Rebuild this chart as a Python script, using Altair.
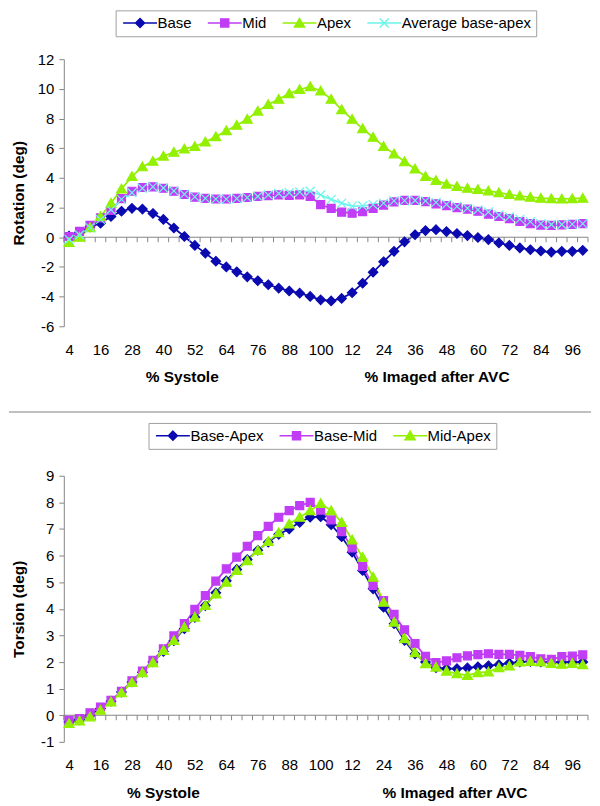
import json
import altair as alt
import pandas as pd

# ---------------- data ----------------
systole_pct = [4, 8, 12, 16, 20, 24, 28, 32, 36, 40, 44, 48, 52, 56, 60, 64, 68, 72, 76, 80, 84, 88, 92, 96, 100]
avc_pct = [4, 8, 12, 16, 20, 24, 28, 32, 36, 40, 44, 48, 52, 56, 60, 64, 68, 72, 76, 80, 84, 88, 92, 96, 100]
cat_labels = [str(v) for v in systole_pct + avc_pct]
x_titles = ["% Systole", "% Imaged after AVC"]

rot_series = ["Base", "Mid", "Apex", "Average base-apex"]
rot_base = [0.07, 0.33, 0.7, 0.95, 1.4, 1.75, 1.95, 1.9, 1.6, 1.2,
            0.62, 0.05, -0.55, -1.07, -1.62, -2.0, -2.33, -2.67, -2.93, -3.2,
            -3.43, -3.62, -3.77, -3.99, -4.22, -4.29, -4.12, -3.74, -3.1, -2.36,
            -1.65, -0.95, -0.31, 0.17, 0.45, 0.51, 0.38, 0.25, 0.11, -0.02,
            -0.16, -0.38, -0.55, -0.72, -0.84, -0.93, -1.0, -0.95, -0.95, -0.88]
rot_mid = [0.05, 0.4, 0.8, 1.3, 1.8, 2.6, 3.1, 3.35, 3.4, 3.3,
           3.1, 2.88, 2.7, 2.62, 2.58, 2.58, 2.62, 2.68, 2.75, 2.8,
           2.85, 2.82, 2.85, 2.75, 2.2, 1.94, 1.69, 1.62, 1.72, 1.95,
           2.17, 2.38, 2.48, 2.48, 2.4, 2.25, 2.13, 2.0, 1.9, 1.75,
           1.56, 1.4, 1.25, 1.06, 0.92, 0.82, 0.8, 0.83, 0.87, 0.92]
rot_apex = [-0.35, 0.0, 0.65, 1.4, 2.3, 3.25, 4.1, 4.75, 5.12, 5.47,
            5.73, 5.95, 6.12, 6.42, 6.78, 7.18, 7.55, 7.95, 8.5, 8.95,
            9.3, 9.68, 9.96, 10.15, 9.86, 9.3, 8.6, 7.95, 7.32, 6.74,
            6.12, 5.62, 5.1, 4.6, 4.1, 3.83, 3.58, 3.42, 3.3, 3.22,
            3.12, 3.0, 2.88, 2.78, 2.7, 2.63, 2.6, 2.58, 2.6, 2.63]
rot_avg = [-0.15, 0.15, 0.65, 1.2, 1.85, 2.55, 3.0, 3.3, 3.4, 3.32,
           3.12, 2.9, 2.72, 2.62, 2.57, 2.57, 2.6, 2.67, 2.75, 2.85,
           2.95, 3.0, 3.05, 3.1, 2.85, 2.55, 2.3, 2.1, 2.12, 2.2,
           2.3, 2.45, 2.47, 2.48, 2.45, 2.35, 2.22, 2.08, 1.95, 1.85,
           1.7, 1.5, 1.38, 1.22, 1.05, 0.92, 0.86, 0.86, 0.88, 0.92]

tor_series = ["Base-Apex", "Base-Mid", "Mid-Apex"]
tor_base_apex = [-0.25, -0.17, 0.0, 0.25, 0.53, 0.87, 1.25, 1.62, 2.0, 2.4,
                 2.8, 3.25, 3.68, 4.12, 4.6, 5.05, 5.48, 5.85, 6.2, 6.5,
                 6.8, 7.0, 7.25, 7.44, 7.46, 7.16, 6.71, 6.13, 5.44, 4.75,
                 4.06, 3.44, 2.81, 2.3, 2.0, 1.79, 1.75, 1.75, 1.78, 1.82,
                 1.86, 1.9, 1.96, 2.0, 2.02, 2.0, 2.0, 2.0, 2.0, 2.0]
tor_base_mid = [-0.19, -0.13, 0.09, 0.31, 0.56, 0.9, 1.29, 1.66, 2.06, 2.5,
                2.98, 3.44, 3.98, 4.5, 5.04, 5.5, 5.94, 6.35, 6.75, 7.1,
                7.44, 7.69, 7.88, 8.0, 7.71, 7.34, 6.9, 6.29, 5.59, 4.88,
                4.31, 3.79, 3.21, 2.69, 2.21, 1.98, 2.04, 2.16, 2.23, 2.28,
                2.31, 2.29, 2.29, 2.25, 2.2, 2.12, 2.1, 2.2, 2.22, 2.27]
tor_mid_apex = [-0.31, -0.21, -0.06, 0.19, 0.5, 0.85, 1.23, 1.6, 1.98, 2.44,
                2.81, 3.31, 3.69, 4.13, 4.56, 5.0, 5.44, 5.81, 6.19, 6.53,
                6.86, 7.19, 7.44, 7.69, 7.96, 7.69, 7.25, 6.59, 5.94, 5.19,
                4.25, 3.5, 2.88, 2.35, 1.94, 1.81, 1.66, 1.56, 1.5, 1.6,
                1.63, 1.79, 1.85, 2.0, 2.02, 2.0, 1.95, 1.92, 1.95, 1.9]

# ---------------- styles ----------------
FONT = "Liberation Sans, Arial, sans-serif"
AXIS = "#868686"
BLUE, PURPLE, GREEN, CYAN = "#0A0AB0", "#C03CF5", "#92F000", "#6CF5EC"

DIAMOND = "M0,-0.95L0.95,0L0,0.95L-0.95,0Z"
SQUARE = "M-0.8,-0.8L0.8,-0.8L0.8,0.8L-0.8,0.8Z"
TRIANGLE = "M0,-0.95L1,0.8L-1,0.8Z"
XMARK = "M-0.9,-0.9L0.9,0.9M-0.9,0.9L0.9,-0.9"

LINE = "M-1,0L5.8,0"
LG_DIAMOND = LINE + "M2.4,-0.9L3.3,0L2.4,0.9L1.5,0Z"
LG_SQUARE = LINE + "M1.6,-0.8L3.2,-0.8L3.2,0.8L1.6,0.8Z"
LG_TRIANGLE = LINE + "M2.4,-0.9L3.4,0.8L1.4,0.8Z"
LG_X = LINE + "M1.5,-0.9L3.3,0.9M1.5,0.9L3.3,-0.9"

PLOT_W = 526


def long_df(names, arrays):
    rows = []
    for name, arr in zip(names, arrays):
        for i, v in enumerate(arr):
            rows.append({"i": i, "series": name, "v": v})
    return pd.DataFrame(rows)


def panel(df, series, colors, fills, markers, lg_markers, ymin, ymax, ystep,
          ytitle, height, legend_x, legend_y, title_pos, separator=False):
    n = len(cat_labels)
    xscale = alt.Scale(domain=[-0.5, n - 0.5], nice=False, zero=False)
    yscale = alt.Scale(domain=[ymin, ymax], nice=False, zero=False)

    label_axis = alt.Axis(orient="bottom", values=list(range(0, n, 3)),
                          labelExpr=json.dumps(cat_labels) + "[datum.value]",
                          domain=False, ticks=False, grid=False, title=None,
                          labelPadding=16, labelFont=FONT, labelFontSize=15,
                          labelColor="black", labelFlush=False, labelOverlap=False)
    y_axis = alt.Axis(orient="left", values=list(range(ymin, ymax + 1, ystep)), grid=False,
                      labelExpr="datum.value < 0 ? '-' + abs(datum.value) : '' + datum.value",
                      domain=True, domainColor=AXIS, ticks=True, tickColor=AXIS,
                      tickSize=5, labelPadding=5,
                      labelFont=FONT, labelFontSize=15, labelColor="black",
                      title=ytitle, titleFont=FONT, titleFontSize=15.5,
                      titleFontWeight="bold", titleColor="black", titleX=-37)

    def X(field, **kw):
        return alt.X(field, scale=xscale, axis=label_axis, **kw)

    def Y(field=None, **kw):
        if field is None:
            return alt.Y(scale=yscale, axis=y_axis, **kw)
        return alt.Y(field, scale=yscale, axis=y_axis, **kw)

    base = alt.Chart(df)
    lines = base.mark_line(strokeWidth=1.75).encode(
        x=X("i:Q"),
        y=Y("v:Q"),
        color=alt.Color("series:N", scale=alt.Scale(domain=series, range=colors), legend=None),
    )
    points = base.mark_point(filled=True, size=100, strokeWidth=1.2, opacity=1).encode(
        x=X("i:Q"),
        y=Y("v:Q"),
        shape=alt.Shape("series:N", scale=alt.Scale(domain=series, range=markers), legend=None),
        fill=alt.Fill("series:N", scale=alt.Scale(domain=series, range=fills), legend=None),
        stroke=alt.Stroke("series:N", scale=alt.Scale(domain=series, range=colors), legend=None),
    )
    lg = dict(orient="none", legendX=legend_x, legendY=legend_y, direction="horizontal",
              columns=len(series), title=None, symbolSize=100, symbolStrokeWidth=1.5,
              labelOffset=22, columnPadding=12, padding=5, strokeColor="#A0A0A0",
              fillColor="white", labelFont=FONT, labelFontSize=15, labelColor="black",
              symbolOpacity=1)
    legend_layer = base.mark_point(filled=True, strokeWidth=1.5).encode(
        shape=alt.Shape("series:N", scale=alt.Scale(domain=series, range=lg_markers), legend=alt.Legend(**lg)),
        fill=alt.Fill("series:N", scale=alt.Scale(domain=series, range=fills), legend=alt.Legend(**lg)),
        stroke=alt.Stroke("series:N", scale=alt.Scale(domain=series, range=colors), legend=alt.Legend(**lg)),
    ).transform_filter("false")

    # category axis drawn at y = 0 (Excel style): line plus tick marks between categories
    bounds_df = pd.DataFrame({"i": [k - 0.5 for k in range(n + 1)]})
    zero_line = alt.Chart(bounds_df).mark_rule(color=AXIS, strokeWidth=1).encode(
        x=X("min(i):Q"),
        x2=alt.X2("max(i):Q"),
        y=Y(datum=0),
    )
    zero_ticks = alt.Chart(bounds_df).mark_rule(color=AXIS, strokeWidth=1, y2Offset=5).encode(
        x=X("i:Q"),
        y=Y(datum=0),
        y2=alt.Y2(datum=0),
    )

    tdf = pd.DataFrame({"i": title_pos, "t": x_titles})
    titles = alt.Chart(tdf).mark_text(font=FONT, fontSize=15.5, fontWeight="bold",
                                      color="black", baseline="middle").encode(
        x=X("i:Q"),
        y=alt.value(height + 51),
        text="t:N",
    )
    layers = [lines, zero_line, zero_ticks, points, legend_layer, titles]
    if separator:
        rule = alt.Chart(pd.DataFrame({"a": [0]})).mark_rule(color="#C0C0C0", strokeWidth=2).encode(
            x=alt.value(-55), x2=alt.value(PLOT_W + 3), y=alt.value(height + 86))
        layers.append(rule)
    return alt.layer(*layers).resolve_scale(
        shape="independent", fill="independent", stroke="independent"
    ).properties(width=PLOT_W, height=height)


rot_df = long_df(rot_series, [rot_base, rot_mid, rot_apex, rot_avg])
tor_df = long_df(tor_series, [tor_base_apex, tor_base_mid, tor_mid_apex])

top = panel(rot_df, rot_series, [BLUE, PURPLE, GREEN, CYAN],
            [BLUE, PURPLE, GREEN, "transparent"],
            [DIAMOND, SQUARE, TRIANGLE, XMARK],
            [LG_DIAMOND, LG_SQUARE, LG_TRIANGLE, LG_X],
            -6, 12, 2, "Rotation (deg)", 268, 52, -49, [10.8, 35.1], separator=True)
bottom = panel(tor_df, tor_series, [BLUE, PURPLE, GREEN], [BLUE, PURPLE, GREEN],
               [DIAMOND, SQUARE, TRIANGLE], [LG_DIAMOND, LG_SQUARE, LG_TRIANGLE],
               -1, 9, 1, "Torsion (deg)", 267, 85, -53, [9.0, 36.8])

chart = alt.vconcat(top, bottom, spacing=150, bounds="flush").properties(
    padding=0, background="white"
).configure_view(stroke="transparent", strokeWidth=0)

chart.save("out.html", embed_options={"renderer": "svg", "actions": False})
